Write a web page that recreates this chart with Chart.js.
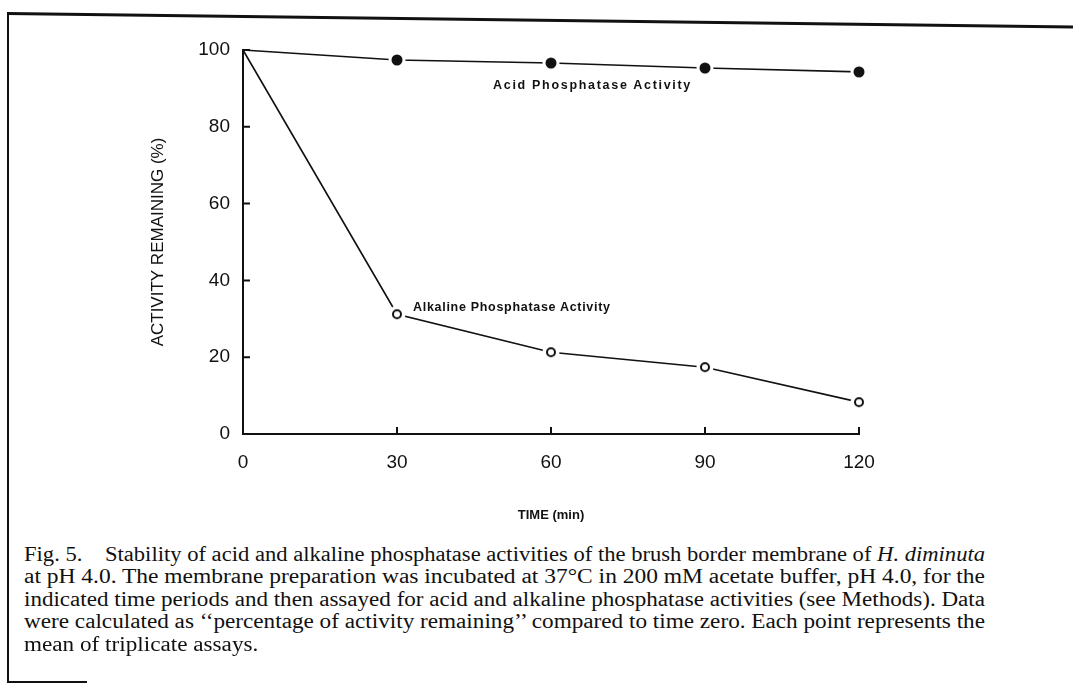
<!DOCTYPE html>
<html>
<head>
<meta charset="utf-8">
<script src="https://cdn.jsdelivr.net/npm/chart.js@4.4.0/dist/chart.umd.min.js"></script>
<style>
  body { margin: 0; background: #fff; }
  #page { position: relative; width: 1073px; height: 686px; overflow: hidden; background: #fff; }
  #chart { position: absolute; left: 0; top: 0; }
  .frame-left { position: absolute; left: 7px; top: 12px; width: 2px; height: 671px; background: #111; }
  .frame-top { position: absolute; left: 7px; top: 12px; width: 1075px; height: 3px; background: #111;
    transform-origin: 0 0; transform: rotate(0.72deg); }
  .frame-bottom { position: absolute; left: 7px; top: 681px; width: 80px; height: 2px; background: #111; }
  .note { position: absolute; font-family: "Liberation Sans", Arial, sans-serif; font-weight: bold;
    font-size: 12.5px; color: #111; white-space: nowrap; }
  #caption { position: absolute; left: 24px; top: 543px; font-family: "Liberation Serif", "Times New Roman", serif;
    font-size: 20px; line-height: 22.4px; color: #111; }
  #caption span { display: inline-block; white-space: nowrap; transform-origin: 0 0; }
</style>
</head>
<body>
<div id="page">
  <canvas id="chart" width="1073" height="540"></canvas>
  <div class="frame-left"></div>
  <div class="frame-top"></div>
  <div class="frame-bottom"></div>
  <div class="note" style="left:493px; top:78px; letter-spacing:1.7px;">Acid Phosphatase Activity</div>
  <div class="note" style="left:413px; top:300px; letter-spacing:0.7px;">Alkaline Phosphatase Activity</div>
  <div id="caption">
    <div><span class="fit">Fig. 5.&nbsp;&nbsp;&nbsp; Stability of acid and alkaline phosphatase activities of the brush border membrane of <i>H. diminuta</i></span></div>
    <div><span class="fit">at pH 4.0. The membrane preparation was incubated at 37°C in 200 mM acetate buffer, pH 4.0, for the</span></div>
    <div><span class="fit">indicated time periods and then assayed for acid and alkaline phosphatase activities (see Methods). Data</span></div>
    <div><span class="fit">were calculated as ‘‘percentage of activity remaining’’ compared to time zero. Each point represents the</span></div>
    <div><span class="last">mean of triplicate assays.</span></div>
  </div>
</div>
<script>
  const timeMin = [0, 30, 60, 90, 120];
  const acidActivity = [100, 97.4, 96.6, 95.3, 94.3];
  const alkalineActivity = [100, 31.2, 21.3, 17.4, 8.3];
  const xTicks = [0, 30, 60, 90, 120];
  const yTicks = [0, 20, 40, 60, 80, 100];

  // squeeze the caption lines to the print's condensed width
  const captionWidth = 961;
  let squeeze = 1;
  document.querySelectorAll("#caption .fit").forEach((line) => {
    const w = line.getBoundingClientRect().width;
    squeeze = captionWidth / w;
    line.style.transform = `scaleX(${squeeze})`;
  });
  document.querySelector("#caption .last").style.transform = `scaleX(${squeeze})`;

  // marker with a white halo so the line stops short of it
  function makeMarker(filled) {
    const c = document.createElement("canvas");
    c.width = 20;
    c.height = 20;
    const g = c.getContext("2d");
    g.fillStyle = "#fff";
    g.beginPath();
    g.arc(10, 10, 8.5, 0, Math.PI * 2);
    g.fill();
    g.beginPath();
    if (filled) {
      g.fillStyle = "#111";
      g.arc(10, 10, 5.5, 0, Math.PI * 2);
      g.fill();
    } else {
      g.strokeStyle = "#111";
      g.lineWidth = 2;
      g.arc(10, 10, 4, 0, Math.PI * 2);
      g.stroke();
    }
    return c;
  }
  const dot = makeMarker(true);
  const ring = makeMarker(false);

  const toPoints = (ys) => timeMin.map((t, i) => ({ x: t, y: ys[i] }));
  const hideFirst = (ctx) => (ctx.dataIndex === 0 ? 0 : 8);

  // short inward tick marks, like the original print
  const inwardTicks = {
    id: "inwardTicks",
    afterDatasetsDraw(chart) {
      const { ctx, scales } = chart;
      const x = scales.x, y = scales.y;
      ctx.save();
      ctx.strokeStyle = "#111";
      ctx.lineWidth = 2;
      ctx.beginPath();
      xTicks.slice(1).forEach((v) => {
        const px = x.getPixelForValue(v);
        ctx.moveTo(px, y.bottom);
        ctx.lineTo(px, y.bottom - 7);
      });
      yTicks.slice(1).forEach((v) => {
        const py = y.getPixelForValue(v);
        ctx.moveTo(x.left, py);
        ctx.lineTo(x.left + 7, py);
      });
      ctx.stroke();
      ctx.restore();
    },
  };

  new Chart(document.getElementById("chart"), {
    type: "line",
    data: {
      datasets: [
        {
          label: "Acid Phosphatase Activity",
          data: toPoints(acidActivity),
          borderColor: "#111",
          borderWidth: 1.6,
          pointStyle: dot,
          pointRadius: hideFirst,
          tension: 0,
          clip: false,
        },
        {
          label: "Alkaline Phosphatase Activity",
          data: toPoints(alkalineActivity),
          borderColor: "#111",
          borderWidth: 1.6,
          pointStyle: ring,
          pointRadius: hideFirst,
          tension: 0,
          clip: false,
        },
      ],
    },
    options: {
      responsive: false,
      animation: false,
      events: [],
      layout: { padding: { left: 0, top: 50, right: 214, bottom: 0 } },
      plugins: { legend: { display: false }, tooltip: { enabled: false } },
      scales: {
        x: {
          type: "linear",
          min: 0,
          max: 120,
          afterBuildTicks: (s) => { s.ticks = xTicks.map((v) => ({ value: v })); },
          afterFit: (s) => { s.height = 106; },
          grid: { display: false, drawTicks: false },
          border: { display: true, color: "#111", width: 2 },
          ticks: { color: "#111", padding: 17, font: { family: "Liberation Sans, Arial, sans-serif", size: 19 } },
          title: {
            display: true,
            text: "TIME (min)",
            color: "#111",
            padding: { top: 0, bottom: 17 },
            font: { family: "Liberation Sans Narrow, Liberation Sans, sans-serif", size: 13, weight: "bold" },
          },
        },
        y: {
          min: 0,
          max: 100,
          afterBuildTicks: (s) => { s.ticks = yTicks.map((v) => ({ value: v })); },
          afterFit: (s) => { s.width = 243; },
          grid: { display: false, drawTicks: false },
          border: { display: true, color: "#111", width: 2 },
          ticks: { color: "#111", padding: 13, font: { family: "Liberation Sans, Arial, sans-serif", size: 19 } },
          title: {
            display: true,
            text: "ACTIVITY REMAINING (%)",
            color: "#111",
            padding: { top: 148, bottom: 0 },
            font: { family: "Liberation Sans, Arial, sans-serif", size: 17 },
          },
        },
      },
    },
    plugins: [inwardTicks],
  });
</script>
</body>
</html>
